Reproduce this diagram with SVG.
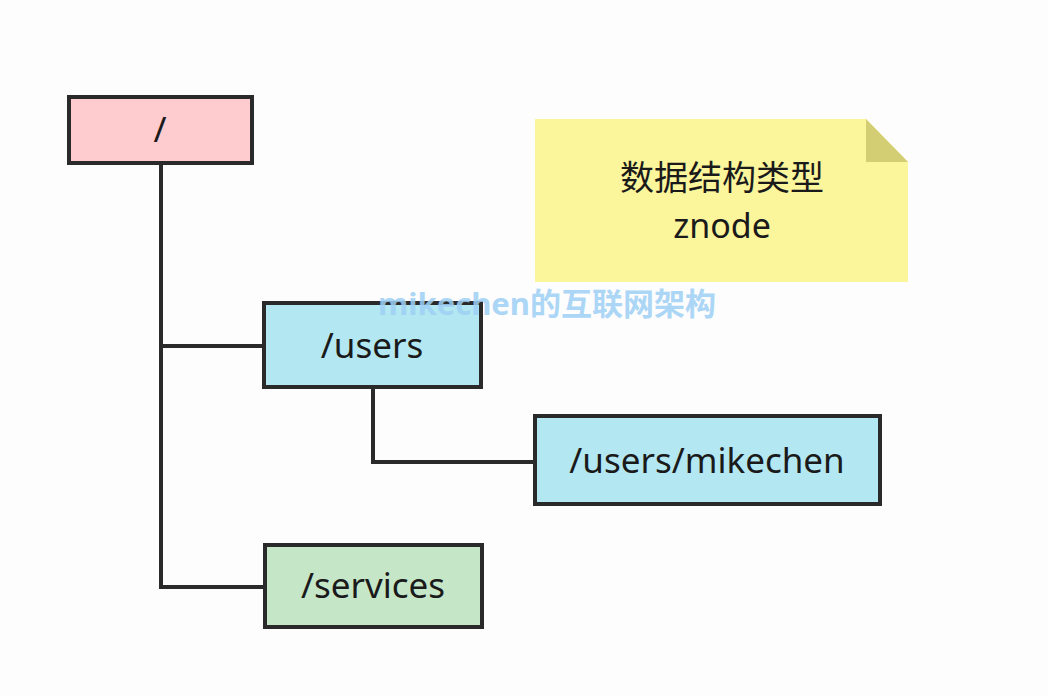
<svg xmlns="http://www.w3.org/2000/svg" width="1048" height="696" viewBox="0 0 1048 696">
<style>
.box{stroke:#2a2a2a;stroke-width:4}
.lbl{font-family:"Noto Sans","Open Sans",sans-serif;font-size:35px;fill:#1a1a1a;text-anchor:middle}
.conn{fill:none;stroke:#2a2a2a;stroke-width:4;stroke-linecap:square}
.note{font-family:"Noto Sans","Noto Sans CJK SC",sans-serif;font-size:34px;fill:#1a1a1a;text-anchor:middle}
.wm{font-family:"Noto Sans","Noto Sans CJK SC",sans-serif;font-size:31px;font-weight:bold;fill:#9fd0f5;opacity:0.85}
</style>
<rect width="1048" height="696" fill="#fdfdfd"/>
<g id="connectors">
<path class="conn" d="M161 165 V587 H263"/>
<path class="conn" d="M161 346 H262"/>
<path class="conn" d="M373 389 V462 H533"/>
</g>
<g id="node-root">
<rect class="box" x="69" y="97" width="183" height="66" fill="#fecbcf"/>
<text class="lbl" x="160" y="142">/</text>
</g>
<g id="node-users">
<rect class="box" x="264" y="303" width="217" height="84" fill="#b3e7f1"/>
<text class="lbl" x="372" y="358">/users</text>
</g>
<g id="node-mikechen">
<rect class="box" x="535" y="416" width="345" height="88" fill="#b3e7f1"/>
<text class="lbl" x="707" y="473">/users/mikechen</text>
</g>
<g id="node-services">
<rect class="box" x="265" y="545" width="217" height="82" fill="#c6e6c8"/>
<text class="lbl" x="373" y="598">/services</text>
</g>
<g id="note">
<path d="M535 119 H866 L908 162 V282 H535 Z" fill="#fbf59c"/>
<path d="M866 119 V162 H908 Z" fill="#d3cd74"/>
<text class="note" x="722" y="190">数据结构类型</text>
<text class="note" x="722" y="238">znode</text>
</g>
<text class="wm" x="378" y="315">mikechen的互联网架构</text>
</svg>
